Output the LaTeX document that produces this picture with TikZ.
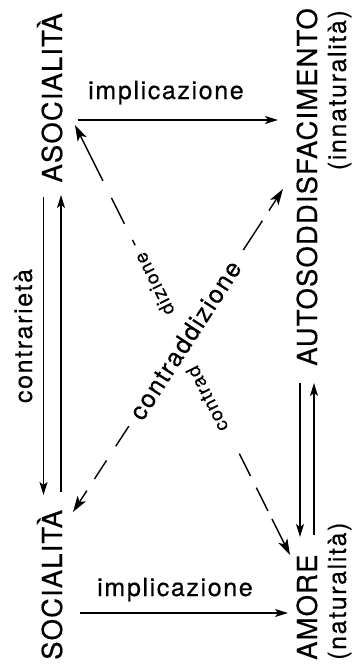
\documentclass[tikz,border=0pt]{standalone}
\usepackage{fontspec}
\setmainfont{TeX Gyre Heros}
\newfontfamily\capfont[LetterSpace=4,FakeBold=0.4]{TeX Gyre Heros}
\newfontfamily\lowfont[LetterSpace=6.5,FakeBold=0.4]{TeX Gyre Heros}
\usetikzlibrary{arrows.meta}

\begin{document}
\begin{tikzpicture}[x=1pt,y=-1pt,
  term/.style={inner sep=0pt, rotate=90, font=\capfont\fontsize{27.5}{30}\selectfont},
  gloss/.style={inner sep=0pt, font=\lowfont\fontsize{25}{28}\selectfont},
  small/.style={inner sep=0pt, font=\lowfont\fontsize{19}{21}\selectfont},
  tip/.tip={Stealth[length=13pt,width=8pt,inset=3pt]},
  bigtip/.tip={Stealth[length=16pt,width=10pt,inset=4pt]},
  rel/.style={line width=1.4pt, -tip},
  opp/.style={line width=1.4pt, bigtip-bigtip},
]
\useasboundingbox (0,0) rectangle (353,665);

% corner terms of the square
\node[term, anchor=base east] (aso) at (62,13) {ASOCIALITÀ};
\node[term, anchor=base west] (soc) at (62,660) {SOCIALITÀ};
\node[term, anchor=base east] (auto) at (317,8) {AUTOSODDISFACIMENTO};
\node[term, anchor=base west] (amo) at (317,660) {AMORE};
\node[gloss, rotate=90, anchor=base east] (inn) at (346,10) {(innaturalità)};
\node[gloss, rotate=90, anchor=base west] (nat) at (346,660) {(naturalità)};

% relation labels
\node[gloss, anchor=base west] (impA) at (88,99) {implicazione};
\node[gloss, anchor=base west] (impB) at (97,596) {implicazione};
\node[gloss, rotate=90, anchor=base] (contr) at (32,336) {contrarietà};

% end points of the relation arrows
\coordinate (asoR) at (78,120);
\coordinate (autoL) at (278,120);
\coordinate (socR) at (80,613);
\coordinate (amoL) at (288,613);
\coordinate (asoB1) at (43.5,197);
\coordinate (socT1) at (43.5,495);
\coordinate (socT2) at (61,492);
\coordinate (asoB2) at (61,195);
\coordinate (autoB1) at (300,383);
\coordinate (amoT1) at (300,537);
\coordinate (amoT2) at (314,535);
\coordinate (autoB2) at (314,383);
\coordinate (socD) at (73,512);
\coordinate (autoD) at (283,189);
\coordinate (asoD) at (75,125);
\coordinate (amoD) at (290,555);

% implication
\draw[rel] (asoR) -- (autoL);
\draw[rel] (socR) -- (amoL);
% contrariety
\draw[rel] (asoB1) -- (socT1);
\draw[rel] (socT2) -- (asoB2);
\draw[rel] (autoB1) -- (amoT1);
\draw[rel] (amoT2) -- (autoB2);
% contradiction diagonals, broken where the labels sit
\draw[opp, dash pattern=on 14pt off 14pt on 22pt off 17pt on 24pt off 210pt on 35pt off 12pt on 60pt]
  (socD) -- (autoD);
\draw[opp, dash pattern=on 51pt off 19pt on 29pt off 18pt on 6pt off 233pt on 25pt off 13pt on 26pt off 9pt on 60pt]
  (asoD) -- (amoD);

\node[gloss, rotate=57] (cd) at (185,340) {contraddizione};
\node[small, rotate=116.6] (cdA) at (154,284) {dizione};
\node[small, rotate=116.6] (cdB) at (207,399) {contrad};
\end{tikzpicture}
\end{document}
